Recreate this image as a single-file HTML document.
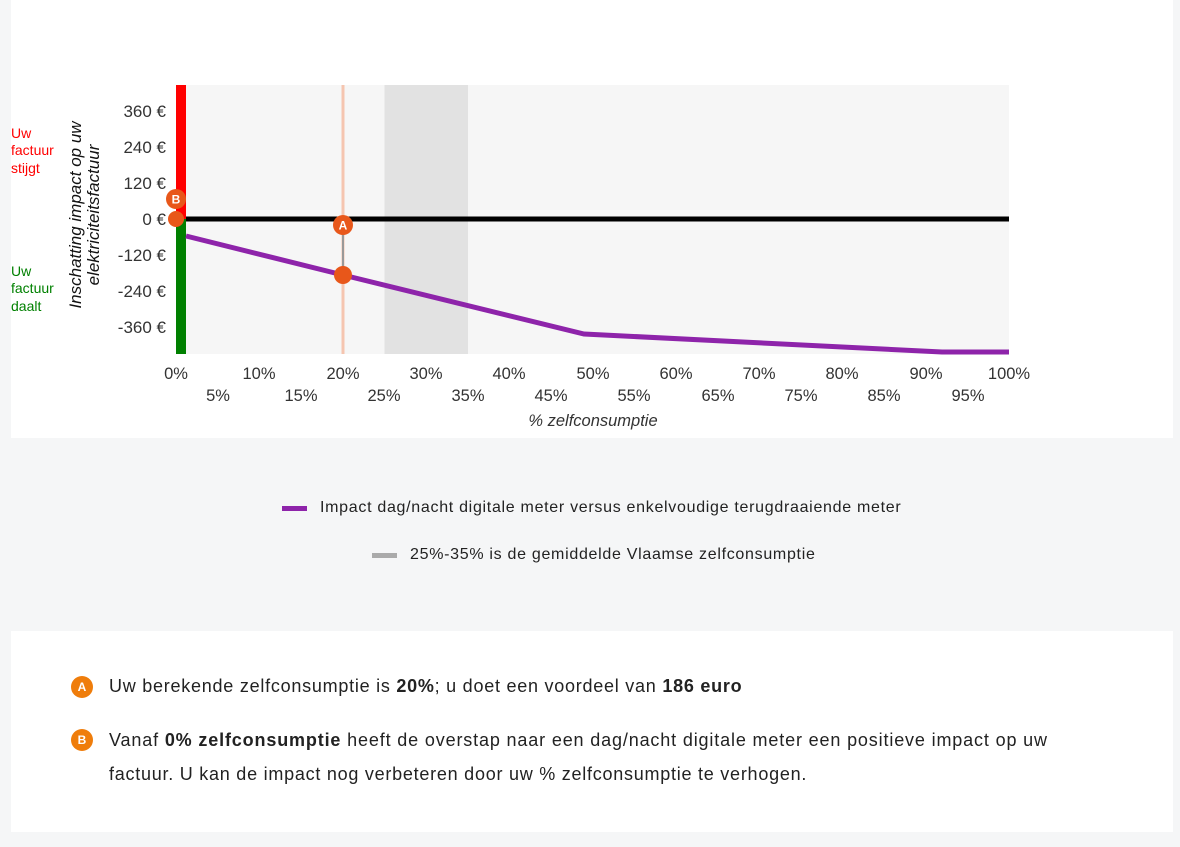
<!DOCTYPE html>
<html><head><meta charset="utf-8"><style>
body{margin:0;width:1180px;height:847px;background:#f5f6f7;font-family:"Liberation Sans",sans-serif;position:relative;overflow:hidden}
.card{position:absolute;left:11px;width:1162px;background:#fff}
.t{position:absolute;font-size:18px;letter-spacing:0.75px;color:#222;white-space:nowrap}
.badge{position:absolute;width:22px;height:22px;border-radius:50%;background:#ef7d0b;color:#fff;font-size:12px;font-weight:bold;text-align:center;line-height:22px}
</style></head><body>
<div class="card" style="top:0;height:438px"></div>
<div class="card" style="top:631px;height:201px"></div>
<svg width="1180" height="440" style="position:absolute;left:0;top:0" font-family="Liberation Sans, sans-serif">
<rect x="176" y="85" width="833" height="269" fill="#f6f6f6"/>
<rect x="384.5" y="85" width="83.5" height="269" fill="#e2e2e2"/>
<line x1="343" y1="85" x2="343" y2="354" stroke="#f5c5b0" stroke-width="3"/>
<line x1="176" y1="219" x2="1009" y2="219" stroke="#000" stroke-width="5"/>
<rect x="176" y="85" width="10" height="134" fill="#ff0000"/>
<rect x="176" y="219" width="10" height="135" fill="#008000"/>
<polyline points="186,236 343,275 584,334 942,352 1009,352" fill="none" stroke="#8e24aa" stroke-width="5"/>
<line x1="343" y1="225" x2="343" y2="275" stroke="#999" stroke-width="2"/>
<circle cx="176" cy="219" r="8" fill="#e8571a"/>
<circle cx="176" cy="199" r="10" fill="#e8571a"/>
<text x="176" y="203.5" font-size="12" font-weight="bold" fill="#fff" text-anchor="middle">B</text>
<circle cx="343" cy="225" r="10" fill="#e8571a"/>
<text x="343" y="229.5" font-size="12" font-weight="bold" fill="#fff" text-anchor="middle">A</text>
<circle cx="343" cy="275" r="9" fill="#e8571a"/>
<g font-size="17" fill="#333" text-anchor="end">
<text x="166" y="117">360 €</text><text x="166" y="153">240 €</text><text x="166" y="189">120 €</text>
<text x="166" y="225">0 €</text><text x="166" y="261">-120 €</text><text x="166" y="297">-240 €</text><text x="166" y="333">-360 €</text>
</g>
<g font-size="16.5" fill="#333" text-anchor="middle">
<text x="176" y="379">0%</text><text x="259" y="379">10%</text><text x="343" y="379">20%</text><text x="426" y="379">30%</text><text x="509" y="379">40%</text><text x="593" y="379">50%</text><text x="676" y="379">60%</text><text x="759" y="379">70%</text><text x="842" y="379">80%</text><text x="926" y="379">90%</text><text x="1009" y="379">100%</text>
<text x="218" y="401">5%</text><text x="301" y="401">15%</text><text x="384" y="401">25%</text><text x="468" y="401">35%</text><text x="551" y="401">45%</text><text x="634" y="401">55%</text><text x="718" y="401">65%</text><text x="801" y="401">75%</text><text x="884" y="401">85%</text><text x="968" y="401">95%</text>
<text x="593" y="426" font-style="italic">% zelfconsumptie</text>
</g>
<g font-size="17" fill="#111" font-style="italic" text-anchor="middle" transform="translate(86,215) rotate(-90)">
<text x="0" y="-5">Inschatting impact op uw</text>
<text x="0" y="13">elektriciteitsfactuur</text>
</g>
<g font-size="14" fill="#ff0000"><text x="11" y="138">Uw</text><text x="11" y="155">factuur</text><text x="11" y="173">stijgt</text></g>
<g font-size="14" fill="#008000"><text x="11" y="276">Uw</text><text x="11" y="293">factuur</text><text x="11" y="311">daalt</text></g>
</svg>
<div style="position:absolute;left:282px;top:506px;width:25px;height:5px;background:#8e24aa"></div>
<div class="t" style="left:320px;top:499px;font-size:16px;letter-spacing:0.7px">Impact dag/nacht digitale meter versus enkelvoudige terugdraaiende meter</div>
<div style="position:absolute;left:372px;top:553px;width:25px;height:5px;background:#aaa"></div>
<div class="t" style="left:410px;top:546px;font-size:16px;letter-spacing:0.7px">25%-35% is de gemiddelde Vlaamse zelfconsumptie</div>
<div class="badge" style="left:71px;top:676px">A</div>
<div class="t" style="left:109px;top:676px">Uw berekende zelfconsumptie is <b>20%</b>; u doet een voordeel van <b>186 euro</b></div>
<div class="badge" style="left:71px;top:729px">B</div>
<div class="t" style="left:109px;top:730px;letter-spacing:0.85px">Vanaf <b>0% zelfconsumptie</b> heeft de overstap naar een dag/nacht digitale meter een positieve impact op uw</div>
<div class="t" style="left:109px;top:764px">factuur. U kan de impact nog verbeteren door uw % zelfconsumptie te verhogen.</div>
</body></html>
